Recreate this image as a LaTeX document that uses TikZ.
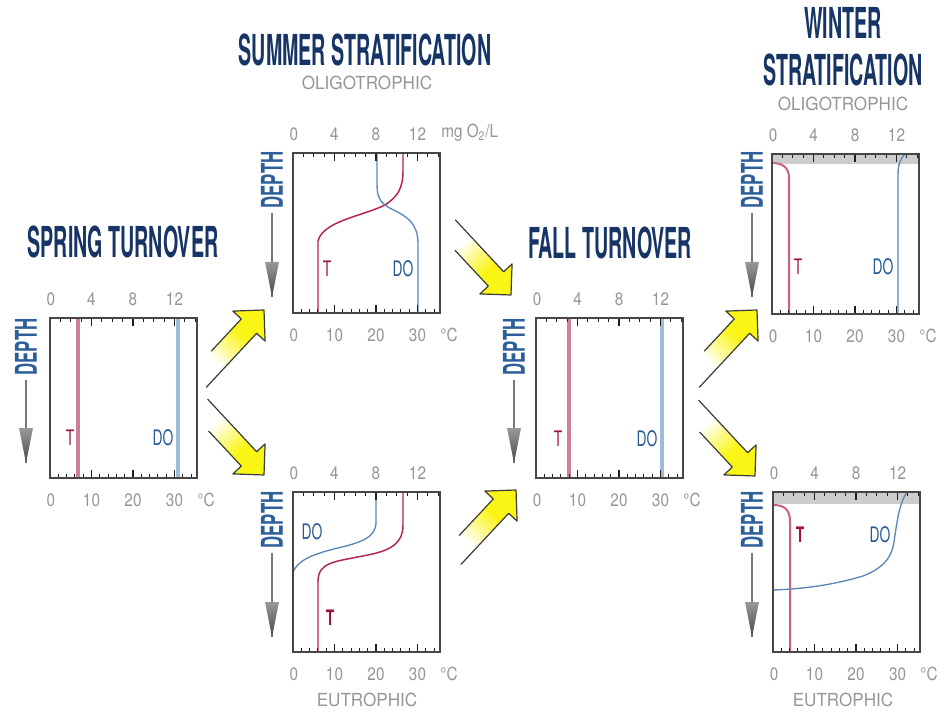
\documentclass[tikz,border=0pt]{standalone}
\usepackage{fontspec}
\setmainfont{TeX Gyre Heros}
\newfontfamily\titlefont[FakeStretch=0.46]{TeX Gyre Heros}
\newfontfamily\depthfont[FakeStretch=0.56]{TeX Gyre Heros}
\newfontfamily\numfont[FakeStretch=0.85]{TeX Gyre Heros}
\newfontfamily\subfont[FakeStretch=0.95]{TeX Gyre Heros}
\newfontfamily\lblfont[FakeStretch=0.65]{TeX Gyre Heros}
\definecolor{titleblue}{RGB}{22,52,102}
\definecolor{depthblue}{RGB}{45,95,155}
\definecolor{numgray}{RGB}{150,150,150}
\definecolor{boxgray}{RGB}{70,70,70}
\definecolor{tickc}{RGB}{30,30,30}
\definecolor{Tlight}{RGB}{208,125,155}
\definecolor{DOlight}{RGB}{160,187,218}
\definecolor{Tdark}{RGB}{180,35,85}
\definecolor{Twinc}{RGB}{205,95,130}
\definecolor{DOdark}{RGB}{90,135,185}
\definecolor{Tlab}{RGB}{160,20,60}
\definecolor{DOlab}{RGB}{40,90,150}
\definecolor{arrowyellow}{RGB}{250,245,20}
\definecolor{ylinec}{RGB}{60,60,60}
\definecolor{icegray}{RGB}{205,205,205}
\definecolor{depthgray}{RGB}{120,120,120}
\tikzset{
  panel/.style={minimum width=110.25pt, minimum height=120pt, inner sep=0pt, outer sep=0pt},
  boxline/.style={draw=boxgray, line width=1.1pt},
  tk/.style={draw=tickc, line width=0.8pt},
  num/.style={font=\numfont\fontsize{13.5}{14}\selectfont, text=numgray, inner sep=0pt},
  sub/.style={font=\subfont\fontsize{13.5}{14}\selectfont, text=numgray, inner sep=0pt},
  titletxt/.style={font=\titlefont\bfseries\fontsize{32}{35.25}\selectfont, text=titleblue, inner sep=0pt},
  depthtxt/.style={font=\depthfont\bfseries\fontsize{22.5}{24}\selectfont, text=depthblue, inner sep=0pt},
  lbl/.style={font=\lblfont\fontsize{16}{17}\selectfont, inner sep=0pt},
  Tlbl/.style={lbl, text=Tlab},
  DOlbl/.style={lbl, text=DOlab},
  Tthick/.style={draw=Tlight, line width=2.4pt},
  DOthick/.style={draw=DOlight, line width=2.4pt},
  Tmid/.style={draw=Tdark, line width=1.1pt},
  Twin/.style={draw=Twinc, line width=1.5pt},
  DOmid/.style={draw=DOdark, line width=1.0pt},
  yline/.style={draw=ylinec, line width=0.9pt, line join=round},
  depthline/.style={draw=depthgray, line width=0.9pt},
}
\newcommand\drawpanel[4]{%
  \node[panel] (#1) at (#2+73.5,#3+80) {};
  \begin{scope}[shift={(#1.north west)}]
    #4
    \foreach \k in {1,...,14} \draw[tk] (\k*10.375,0) -- (\k*10.375,4);
    \foreach \k in {4,8,12} \draw[tk] (\k*10.375,0) -- (\k*10.375,8);
    \foreach \k in {1,...,17} \draw[tk] (\k*8.3,160) -- (\k*8.3,156);
    \foreach \k in {5,10,15} \draw[tk] (\k*8.3,160) -- (\k*8.3,152);
    \draw[boxline] (0,0) rectangle (147,160);
    \foreach \v/\q in {0/1,4/41.5,8/83,12/124.5} \node[num] (#1-top\v) at (\q,-19) {\v};
    \foreach \v/\q in {0/1,10/41.5,20/83,30/124.5} \node[num] (#1-bot\v) at (\q,182) {\v};
    \node[num] (#1-degc) at (156,182) {°C};
  \end{scope}}
\newcommand\yarr[6]{%
  \coordinate (#1) at (#2,#3);
  \begin{scope}[shift={(#1)}, rotate=#4]
    \begin{scope}
      \clip (-#5,-10.5) -- (-22,-10.5) -- (-22,-22) -- (0,0) -- (-22,22) -- (-22,10.5) -- (-#6,10.5) -- cycle;
      \foreach \ya in {-100,-98,...,0} {
        \pgfmathsetmacro\yp{max(0,min(100,(\ya+72)*100/38))}
        \fill[arrowyellow!\yp!white] (\ya,-24) rectangle (\ya+2.6,24);
      }
    \end{scope}
    \draw[yline] (-#5,-10.5) -- (-22,-10.5) -- (-22,-22) -- (0,0) -- (-22,22) -- (-22,10.5) -- (-#6,10.5);
  \end{scope}}
\newcommand\depthlabel[4]{%
  \node[depthtxt, rotate=90] (#1) at (#2,#3) {DEPTH};
  \coordinate (#1-tip) at (#2,#4);
  \draw[depthline, shorten <=3pt] (#1.west) -- (#1-tip);
  \shade[top color=black!40, bottom color=black!72] (#1-tip) ++(-7,-35) -- ++(14,0) -- (#1-tip) -- cycle;
}
\begin{document}
\begin{tikzpicture}[x=0.75pt,y=-0.75pt]
\useasboundingbox (0,0) rectangle (940,713);
\fill[white] (0,0) rectangle (940,713);

% titles
\node[titletxt] (t-spring) at (123,242) {SPRING TURNOVER};
\node[titletxt] (t-summer) at (365,50) {SUMMER STRATIFICATION};
\node[sub] (s-summer) at (367,83) {OLIGOTROPHIC};
\node[titletxt] (t-fall) at (610,243) {FALL TURNOVER};
\node[titletxt, align=center] (t-winter) at (843,47) {WINTER\\STRATIFICATION};
\node[sub] (s-winter) at (843,104) {OLIGOTROPHIC};
\node[sub] (e-summer) at (367,700) {EUTROPHIC};
\node[sub] (e-winter) at (843,700) {EUTROPHIC};

% spring
\drawpanel{spring}{50}{318}{%
  \draw[Tthick] (28,0) -- (28,160);
  \draw[DOthick] (128,0) -- (128,160);
  \node[Tlbl] (spring-T) at (20,120) {T};
  \node[DOlbl] (spring-DO) at (113,120) {DO};
}
% summer oligotrophic
\drawpanel{sumtop}{293}{153}{%
  \draw[Tmid] (110,0) -- (110,18) .. controls (110,36) and (104,44) .. (92,52) .. controls (70,63) and (30,68) .. (25,88) -- (25,160);
  \draw[DOmid] (84,0) -- (84,28) .. controls (84,42) and (85,46) .. (92,52) .. controls (100,59) and (125,62) .. (125,90) -- (125,160);
  \node[Tlbl] (sumtop-T) at (34,116) {T};
  \node[DOlbl] (sumtop-DO) at (110,116) {DO};
}
\node[num, anchor=west] (mgl) at (441,133) {mg O\textsubscript{2}/L};
% summer eutrophic
\drawpanel{sumbot}{293}{492}{%
  \draw[DOmid] (83,0) -- (83,30) .. controls (83,45) and (70,50) .. (45,56) .. controls (20,62) and (5,68) .. (0,80);
  \draw[Tmid] (110,0) -- (110,33) .. controls (110,50) and (100,58) .. (75,63) .. controls (40,70) and (25,70) .. (25,90) -- (25,160);
  \node[DOlbl] (sumbot-DO) at (19,40) {DO};
  \node[Tlbl, font=\lblfont\bfseries\fontsize{16}{17}\selectfont] (sumbot-T) at (37,126) {T};
}
% fall
\drawpanel{fall}{536}{318}{%
  \draw[Tthick] (33,0) -- (33,160);
  \draw[DOthick] (126,0) -- (126,160);
  \node[Tlbl] (fall-T) at (22,121) {T};
  \node[DOlbl] (fall-DO) at (111,121) {DO};
}
% winter oligotrophic
\drawpanel{wintop}{772}{154}{%
  \fill[icegray] (0,0) rectangle (147,10);
  \draw[Twin] (0,9) .. controls (10,9) and (17,13) .. (17,24) -- (17,160);
  \draw[DOmid] (133,0) .. controls (128,5) and (126,10) .. (126,22) -- (126,160);
  \node[Tlbl] (wintop-T) at (26,113) {T};
  \node[DOlbl] (wintop-DO) at (111,113) {DO};
}
% winter eutrophic
\drawpanel{winbot}{773}{492}{%
  \fill[icegray] (0,0) rectangle (147,12);
  \draw[Twin] (0,13) .. controls (12,13) and (17,18) .. (17,30) -- (17,160);
  \draw[DOmid] (134,0) .. controls (126,12) and (124,30) .. (121,50) .. controls (118,70) and (105,78) .. (90,84) .. controls (60,93) and (30,97) .. (0,98);
  \node[Tlbl, font=\lblfont\bfseries\fontsize{16}{17}\selectfont] (winbot-T) at (27,43) {T};
  \node[DOlbl] (winbot-DO) at (107,43) {DO};
}

% depth labels
\depthlabel{spring-depth}{26}{347}{463}
\depthlabel{sumtop-depth}{272}{180}{297}
\depthlabel{sumbot-depth}{272}{520}{637}
\depthlabel{fall-depth}{514}{347}{463}
\depthlabel{wintop-depth}{752}{180}{297}
\depthlabel{winbot-depth}{752}{520}{637}

% yellow arrows
\yarr{a1}{264}{310}{47}{66}{96}
\yarr{a2}{264}{475}{-47}{94}{70}
\yarr{a3}{511}{295}{-47}{93}{71}
\yarr{a4}{516}{490}{47}{72}{92}
\yarr{a5}{757}{310}{47}{66}{96}
\yarr{a6}{755}{476}{-47}{94}{70}
\end{tikzpicture}
\end{document}
